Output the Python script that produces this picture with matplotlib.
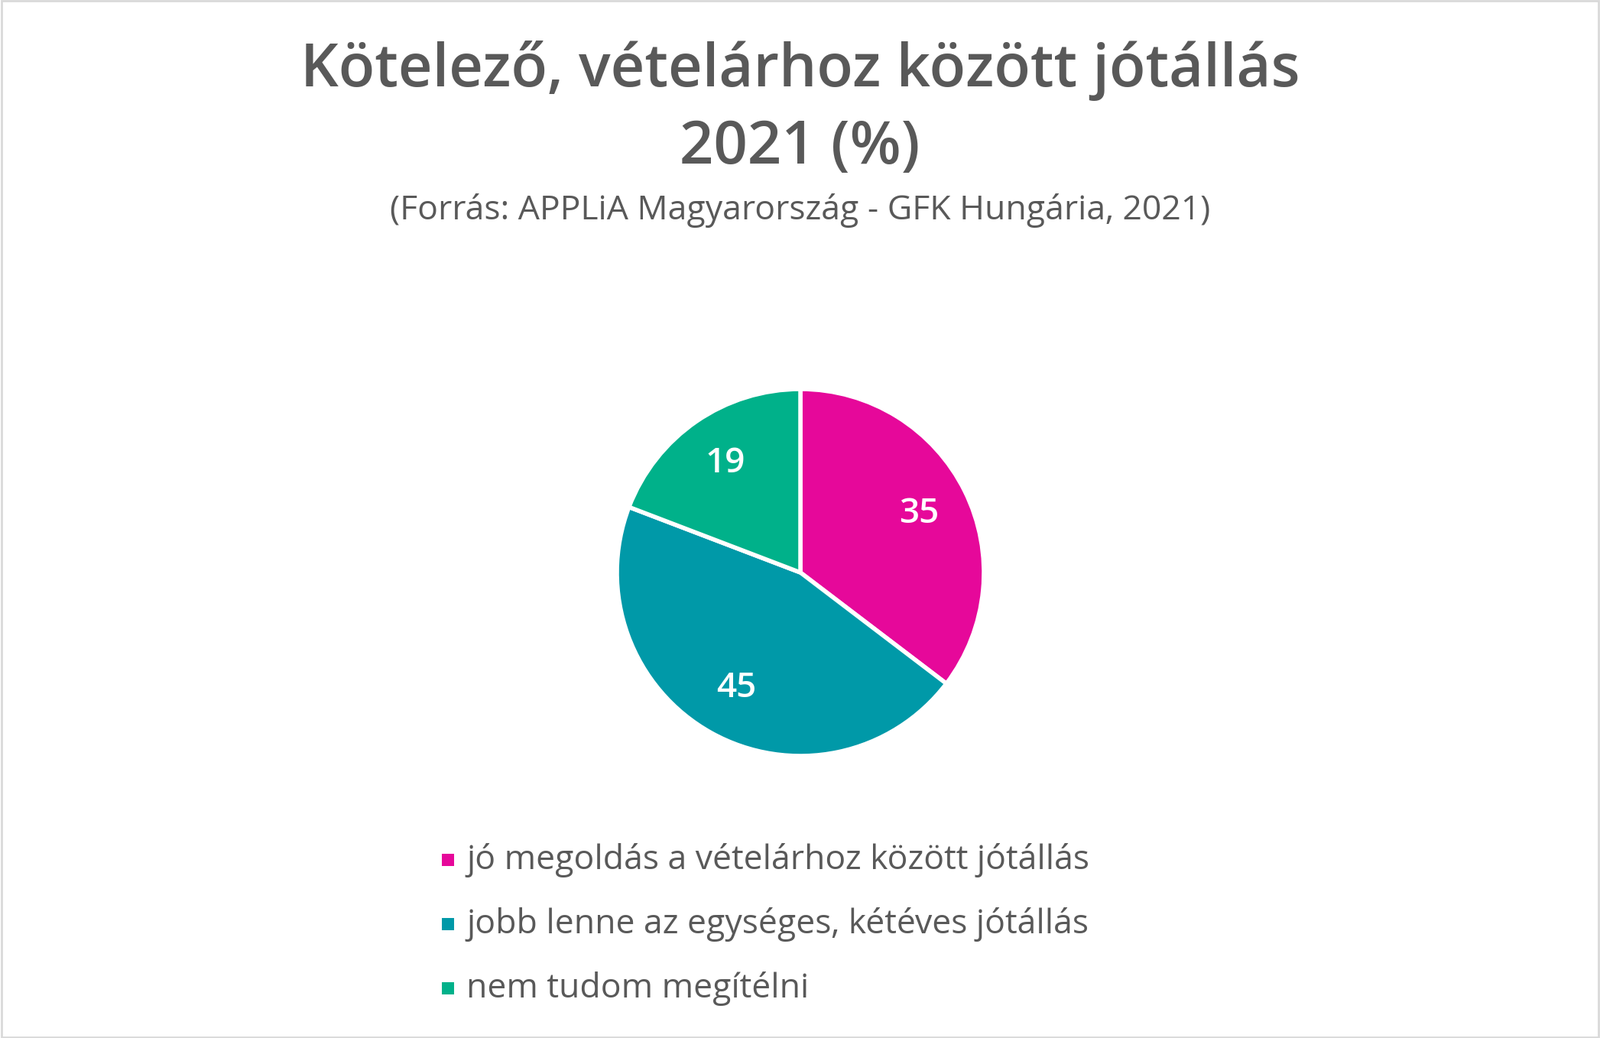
import matplotlib
matplotlib.use("Agg")
from matplotlib import pyplot as plt
from matplotlib.patches import Rectangle
import numpy as np

plt.rcParams["font.family"] = "Open Sans"

categories = [
    "jó megoldás a vételárhoz között jótállás",
    "jobb lenne az egységes, kétéves jótállás",
    "nem tudom megítélni",
]
values = [35, 45, 19]
colors = ["#E6089A", "#0099A8", "#00B18A"]
text_color = "#595959"

W, H = 2093, 1358
fig = plt.figure(figsize=(W / 100, H / 100), dpi=100)
fig.patch.set_facecolor("white")
fig.patches.append(Rectangle((0.001, 0.001), 0.998, 0.998, transform=fig.transFigure,
                             fill=False, edgecolor="#D9D9D9", linewidth=2))

# pie axes: center (1047, 749), radius 240 px
cx, cy, r = 1047, 749, 240
ax = fig.add_axes([(cx - r) / W, 1 - (cy + r) / H, 2 * r / W, 2 * r / H])
wedges, texts = ax.pie(values, colors=colors, startangle=90, counterclock=False,
                       wedgeprops=dict(edgecolor="white", linewidth=4))
ax.set_aspect("equal")
ax.set_xlim(-1, 1)
ax.set_ylim(-1, 1)

angle = 90.0
for v, w in zip(values, wedges):
    mid = np.deg2rad(angle - v / sum(values) * 180)
    angle -= v / sum(values) * 360
    ax.text(0.72 * np.cos(mid), 0.72 * np.sin(mid), str(v), color="white",
            fontsize=33, ha="center", va="center", fontweight="semibold")

fig.text(0.5, 1 - 93 / H, "Kötelező, vételárhoz között jótállás", ha="center", va="center",
         fontsize=56, color=text_color, fontweight="semibold")
fig.text(0.5, 1 - 194 / H, "2021 (%)", ha="center", va="center",
         fontsize=56, color=text_color, fontweight="semibold")
fig.text(0.5, 1 - 276 / H, "(Forrás: APPLiA Magyarország - GFK Hungária, 2021)", ha="center",
         va="center", fontsize=32, color=text_color)

for i, (lab, c) in enumerate(zip(categories, colors)):
    y = 1125 + i * 84
    fig.patches.append(Rectangle((578 / W, 1 - (y + 8) / H), 16 / W, 16 / H,
                                 transform=fig.transFigure, facecolor=c, edgecolor="none"))
    fig.text(610 / W, 1 - y / H, lab, ha="left", va="center", fontsize=32, color=text_color)

fig.savefig("out.png", dpi=100)
